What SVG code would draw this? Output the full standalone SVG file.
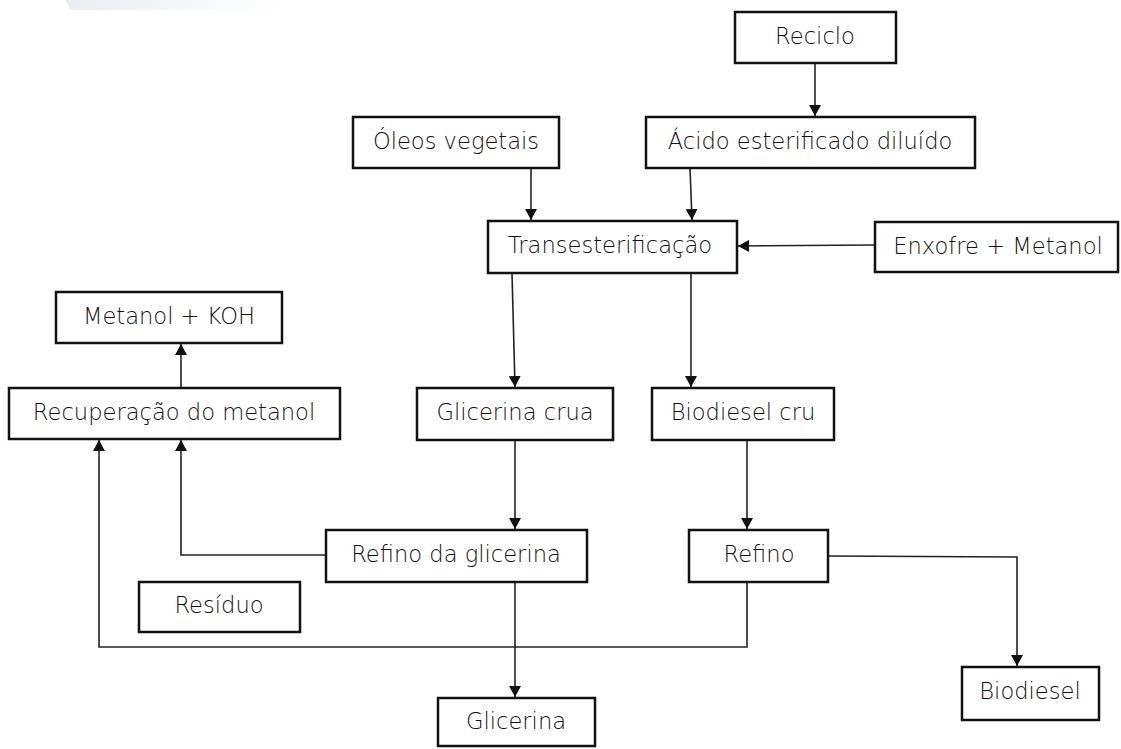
<svg xmlns="http://www.w3.org/2000/svg" width="1121" height="749" viewBox="0 0 1121 749">
<style>
.box{fill:#fff;stroke:#111;stroke-width:2.5}
.lbl{font-family:"DejaVu Sans","Liberation Sans",sans-serif;font-size:22.6px;font-weight:300;fill:#111;text-anchor:middle}
.con{fill:none;stroke:#222;stroke-width:1.6}
</style>
<defs>
<linearGradient id="wm" x1="0" y1="0" x2="1" y2="0">
<stop offset="0" stop-color="#dbe2ea"/>
<stop offset="1" stop-color="#ffffff"/>
</linearGradient>
<marker id="ah" markerUnits="userSpaceOnUse" markerWidth="12" markerHeight="12" refX="11" refY="6" orient="auto">
<path d="M0,0 L11,6 L0,12 z" fill="#111"/>
</marker>
</defs>
<rect width="1121" height="749" fill="#fff"/>
<polygon points="66,0 290,0 275,10 70,10" fill="url(#wm)" opacity="0.6"/>
<g id="connectors">
<path class="con" d="M815,63 L815,116" marker-end="url(#ah)"/>
<path class="con" d="M531,168 L531,220" marker-end="url(#ah)"/>
<path class="con" d="M690,168 L692,220" marker-end="url(#ah)"/>
<path class="con" d="M875,245 L738,246" marker-end="url(#ah)"/>
<path class="con" d="M512,273 L515,387" marker-end="url(#ah)"/>
<path class="con" d="M691,273 L691,387" marker-end="url(#ah)"/>
<path class="con" d="M181,388 L181,344" marker-end="url(#ah)"/>
<path class="con" d="M515,440 L515,529" marker-end="url(#ah)"/>
<path class="con" d="M747,440 L747,529" marker-end="url(#ah)"/>
<path class="con" d="M326,555 L181,555 L181,440" marker-end="url(#ah)"/>
<path class="con" d="M747,582 L747,647 L99,647 L99,440" marker-end="url(#ah)"/>
<path class="con" d="M515,582 L515,697" marker-end="url(#ah)"/>
<path class="con" d="M828,556 L1017,557 L1017,666" marker-end="url(#ah)"/>
</g>
<g id="reciclo"><rect class="box" x="735" y="12" width="161" height="51"/><text class="lbl" x="815" y="44">Reciclo</text></g>
<g id="oleos"><rect class="box" x="353" y="117" width="206" height="51"/><text class="lbl" x="456" y="149">Óleos vegetais</text></g>
<g id="acido"><rect class="box" x="646" y="117" width="329" height="51"/><text class="lbl" x="810" y="149">Ácido esterificado diluído</text></g>
<g id="trans"><rect class="box" x="488" y="221" width="249" height="52"/><text class="lbl" x="610" y="253">Transesterificação</text></g>
<g id="enxofre"><rect class="box" x="875" y="222" width="243" height="50"/><text class="lbl" x="998" y="254">Enxofre + Metanol</text></g>
<g id="metanolkoh"><rect class="box" x="56" y="292" width="226" height="51"/><text class="lbl" x="169" y="324">Metanol + KOH</text></g>
<g id="recuperacao"><rect class="box" x="9" y="388" width="331" height="51"/><text class="lbl" x="174" y="420">Recuperação do metanol</text></g>
<g id="glicerinacrua"><rect class="box" x="417" y="388" width="196" height="52"/><text class="lbl" x="515" y="420">Glicerina crua</text></g>
<g id="biodieselcru"><rect class="box" x="652" y="388" width="182" height="52"/><text class="lbl" x="743" y="420">Biodiesel cru</text></g>
<g id="refinoglicerina"><rect class="box" x="326" y="530" width="261" height="52"/><text class="lbl" x="456" y="562">Refino da glicerina</text></g>
<g id="refino"><rect class="box" x="689" y="530" width="139" height="52"/><text class="lbl" x="759" y="562">Refino</text></g>
<g id="residuo"><rect class="box" x="139" y="582" width="161" height="50"/><text class="lbl" x="219" y="613">Resíduo</text></g>
<g id="glicerina"><rect class="box" x="438" y="698" width="157" height="48"/><text class="lbl" x="516" y="729">Glicerina</text></g>
<g id="biodiesel"><rect class="box" x="962" y="667" width="137" height="53"/><text class="lbl" x="1030" y="699">Biodiesel</text></g>
</svg>
